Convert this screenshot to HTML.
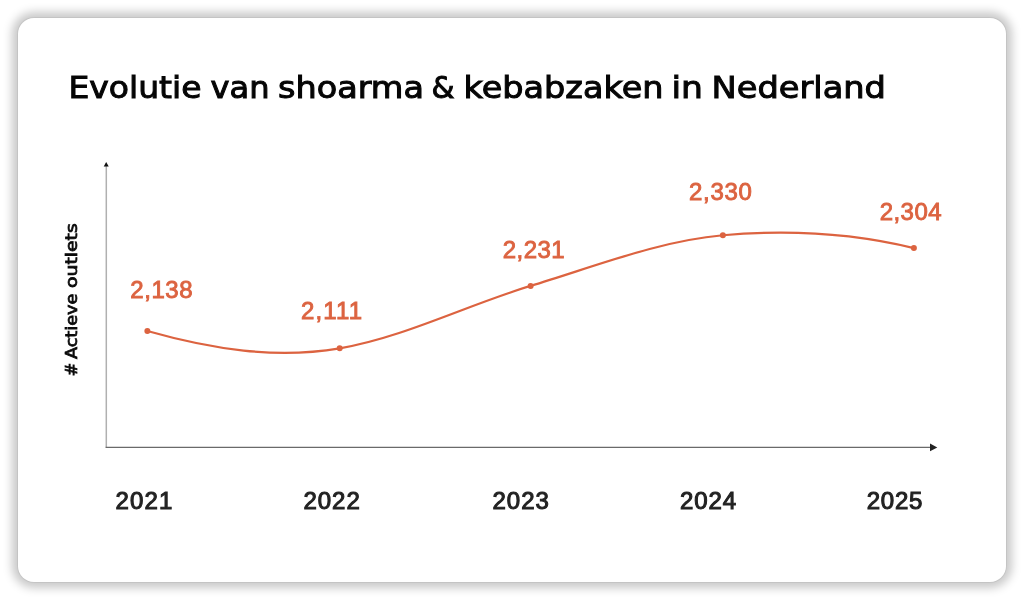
<!DOCTYPE html>
<html lang="nl">
<head>
<meta charset="utf-8">
<title>Evolutie van shoarma &amp; kebabzaken in Nederland</title>
<style>
  html, body { margin: 0; padding: 0; }
  body { width: 1024px; height: 600px; background: #ffffff; position: relative; overflow: hidden; }
  .card {
    position: absolute; left: 18px; top: 18px; width: 988px; height: 564px;
    background: #fff; border-radius: 16px;
    box-shadow: 0 0 0 1px rgba(0,0,0,0.05), 0 0 9.6px 5.8px rgba(0,0,0,0.216);
  }
  svg.chart { position: absolute; left: 0; top: 0; will-change: transform; }
  .ttl { font-family: "DejaVu Sans", sans-serif; font-weight: 400; font-size: 31px; fill: #050505; stroke: #050505; stroke-width: 1.0px; }
  .val { font-family: "Liberation Sans", Arial, sans-serif; font-weight: 400; font-size: 24px; fill: #dc6340; stroke: #dc6340; stroke-width: 0.9px; letter-spacing: 0.3px; }
  .year { font-family: "Liberation Sans", Arial, sans-serif; font-weight: 400; font-size: 24px; fill: #222; stroke: #222; stroke-width: 1.05px; letter-spacing: 0.5px; }
  .ylab { font-family: "DejaVu Sans", sans-serif; font-weight: 400; font-size: 16px; fill: #0a0a0a; stroke: #0a0a0a; stroke-width: 0.75px; }
</style>
</head>
<body>
<div class="card"></div>
<svg class="chart" width="1024" height="600" viewBox="0 0 1024 600">
  <text class="ttl" y="97.6"><tspan x="68.50" textLength="133.00" lengthAdjust="spacingAndGlyphs">Evolutie</tspan> <tspan x="210.50" textLength="59.00" lengthAdjust="spacingAndGlyphs">van</tspan> <tspan x="278.00" textLength="146.00" lengthAdjust="spacingAndGlyphs">shoarma</tspan> <tspan x="431.50" textLength="23.00" lengthAdjust="spacingAndGlyphs">&amp;</tspan> <tspan x="463.50" textLength="200.00" lengthAdjust="spacingAndGlyphs">kebabzaken</tspan> <tspan x="671.50" textLength="31.50" lengthAdjust="spacingAndGlyphs">in</tspan> <tspan x="711.50" textLength="174.50" lengthAdjust="spacingAndGlyphs">Nederland</tspan></text>
  <!-- axes -->
  <line x1="106.3" y1="166" x2="106.3" y2="447.4" stroke="#b0b0b0" stroke-width="1.5"/>
  <polygon points="106.2,161.9 103.7,166.4 108.7,166.4" fill="#111"/>
  <line x1="105.6" y1="447.45" x2="931" y2="447.45" stroke="#6a6a6a" stroke-width="1.25"/>
  <polygon points="937.3,447.4 930,443.6 930,451.2" fill="#222"/>
  <!-- line -->
  <path d="M147.35,331.00 C211.47,349.17 275.58,359.20 339.70,348.30 C403.33,337.48 466.97,305.14 530.60,285.90 C594.70,266.52 658.80,240.88 722.90,235.25 C786.57,229.65 850.23,232.63 913.90,248.10"
        fill="none" stroke="#dc6340" stroke-width="2.2"/>
  <g fill="#dc6340">
    <circle cx="147.35" cy="331" r="3"/>
    <circle cx="339.7" cy="348.3" r="3"/>
    <circle cx="530.6" cy="285.9" r="3"/>
    <circle cx="722.9" cy="235.25" r="3"/>
    <circle cx="913.9" cy="248.1" r="3"/>
  </g>
  <!-- value labels -->
  <text class="val" x="130.3" y="298.4" style="letter-spacing:0.55px">2,138</text>
  <text class="val" x="301.1" y="319.4" style="letter-spacing:1.1px">2,111</text>
  <text class="val" x="502.8" y="257.6" style="letter-spacing:0.45px">2,231</text>
  <text class="val" x="689.0" y="200.1" style="letter-spacing:0.7px">2,330</text>
  <text class="val" x="879.7" y="219.6" style="letter-spacing:0.45px">2,304</text>
  <!-- year labels -->
  <text class="year" x="115.6" y="509.3" style="letter-spacing:1.1px">2021</text>
  <text class="year" x="303.5" y="509.3" style="letter-spacing:0.95px">2022</text>
  <text class="year" x="492.5" y="509.3" style="letter-spacing:1.0px">2023</text>
  <text class="year" x="680.0" y="509.3" style="letter-spacing:0.9px">2024</text>
  <text class="year" x="866.8" y="509.3" style="letter-spacing:0.7px">2025</text>
  <!-- y axis label -->
  <text class="ylab" transform="translate(77.3,375.3) rotate(-90)" y="0"><tspan x="-0.9">#</tspan> <tspan x="16.2" textLength="65.5" lengthAdjust="spacingAndGlyphs">Actieve</tspan> <tspan x="87.3" textLength="64.8" lengthAdjust="spacingAndGlyphs">outlets</tspan></text>
</svg>
</body>
</html>
